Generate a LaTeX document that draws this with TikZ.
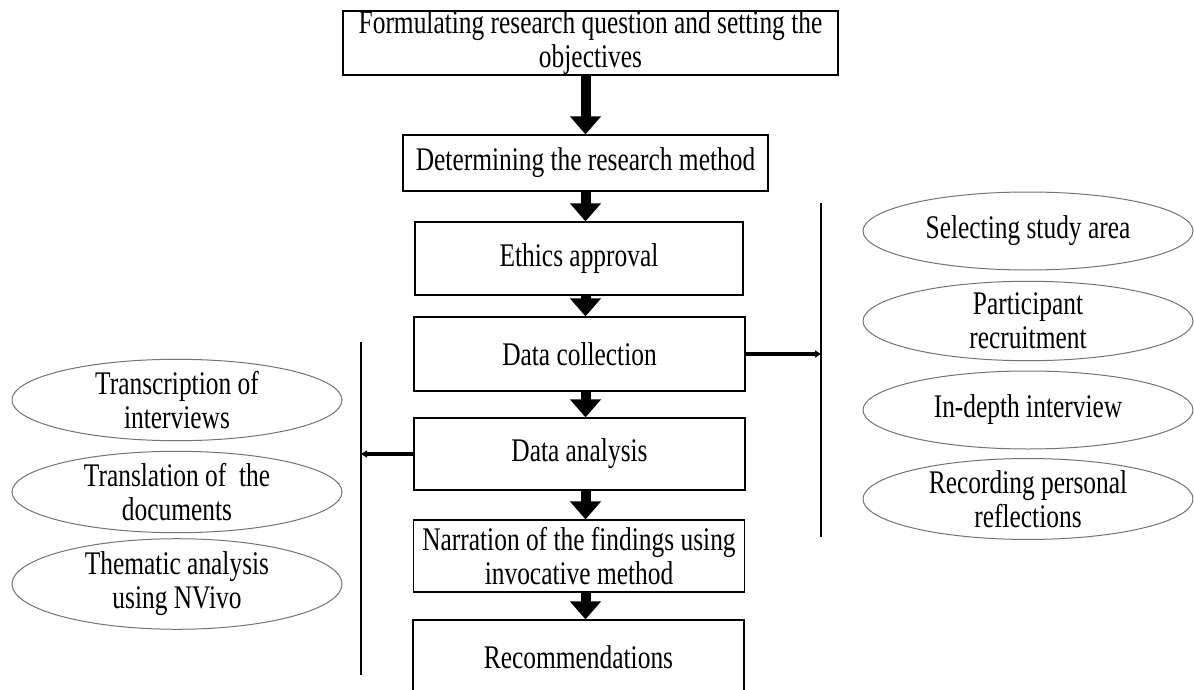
\documentclass[tikz,border=0pt]{standalone}
\usepackage{fontspec}
\setmainfont[FakeStretch=0.77]{Liberation Serif}
\usetikzlibrary{shapes.geometric,arrows.meta}
\tikzset{
  stagebox/.style={draw,line width=0.6pt,align=center,inner sep=0pt,
    minimum width=165.5pt,minimum height=36pt},
  taskoval/.style={ellipse,draw=black!55,line width=0.5pt,align=center,inner sep=0pt,
    minimum width=165pt,minimum height=39pt},
  bigarrow/.style={line width=5pt,-{Triangle[width=15pt,length=9pt]}},
  sidearrow/.style={line width=2pt,-{Triangle[width=3.5pt,length=3pt]}},
  bar/.style={line width=1pt}
}
\begin{document}
\begin{tikzpicture}[x=0.5pt,y=-0.5pt,font=\fontsize{16.5}{17}\selectfont]
        \useasboundingbox (0,0) rectangle (1194,690);
        \clip (0,0) rectangle (1194,690);
        % Main stages
        \node[stagebox,minimum width=247.5pt,minimum height=31pt] (question) at (590.5,43)
          {Formulating research question and setting the\\objectives};
        \node[stagebox,minimum width=182.5pt,minimum height=28pt] (method) at (585.5,163)
          {Determining the research method};
        \node[stagebox,minimum width=164pt,minimum height=36.5pt] (ethics) at (579,258.5) {Ethics approval};
        \node[stagebox,minimum height=37pt] (collect) at (579.5,354) {Data collection};
        \node[stagebox] (analyse) at (579.5,454) {Data analysis};
        \node[stagebox] (narrate) at (579,556) {Narration of the findings using\\invocative method};
        \node[stagebox,minimum height=37pt] (recommend) at (578.5,657) {Recommendations};
        % Arrows between stages
        \draw[bigarrow] (method.north |- question.south) -- (method.north);
        \draw[bigarrow] (method.south) -- (method.south |- ethics.north);
        \draw[bigarrow] (method.south |- ethics.south) -- (method.south |- collect.north);
        \draw[bigarrow] (method.south |- collect.south) -- (method.south |- analyse.north);
        \draw[bigarrow] (method.south |- analyse.south) -- (method.south |- narrate.north);
        \draw[bigarrow] (method.south |- narrate.south) -- (method.south |- recommend.north);
        % Data collection steps (right)
        \coordinate (rtop) at (821,203);
        \coordinate (rbot) at (821,537);
        \draw[bar] (rtop) -- (rbot);
        \draw[sidearrow] (collect.east) -- (collect.east -| rtop);
        \node[taskoval] (area) at (1028,231) {Selecting study area};
        \node[taskoval] (recruit) at (1028,321) {Participant\\recruitment};
        \node[taskoval] (interview) at (1028,410) {In-depth interview};
        \node[taskoval] (reflect) at (1028,499) {Recording personal\\reflections};
        % Data analysis steps (left)
        \coordinate (ltop) at (361,342);
        \coordinate (lbot) at (361,675);
        \draw[bar] (ltop) -- (lbot);
        \draw[sidearrow] (analyse.west) -- (analyse.west -| ltop);
        \node[taskoval] (transcribe) at (177,400) {Transcription of\\interviews};
        \node[taskoval] (translate) at (177,492) {Translation of~ the\\documents};
        \node[taskoval] (thematic) at (177,584) {Thematic analysis\\using NVivo};
      \end{tikzpicture}
\end{document}
